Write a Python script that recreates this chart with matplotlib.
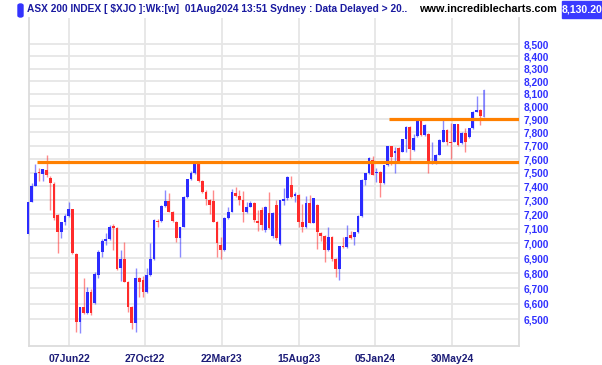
import numpy as np
import pandas as pd
import matplotlib
matplotlib.use("Agg")
import matplotlib.pyplot as plt
from matplotlib.patches import FancyBboxPatch, Rectangle

# weekly candles, first week starting 21 Mar 2022
START = "2022-03-21"

opens = [7062, 7290, 7405, 7505, 7490, 7517, 7463, 7420, 7196, 7077,
         7147, 7188, 7238, 6928, 6480, 6578, 6542, 6677, 6605, 6787,
         6941, 7018, 7030, 7120, 7104, 6833, 6892, 6743, 6580, 6478,
         6767, 6754, 6677, 6787, 6892, 7156, 7156, 7259, 7297, 7219,
         7149, 7034, 7115, 7326, 7451, 7495, 7565, 7437, 7357, 7302,
         7297, 7149, 6988, 6955, 7173, 7219, 7355, 7331, 7302, 7219,
         7255, 7283, 7154, 7231, 7092, 7210, 7050, 7266, 6995, 7297,
         7314, 7409, 7333, 7338, 7149, 7111, 7281, 7143, 7266, 7068,
         7050, 6955, 7046, 6892, 6826, 6981, 6976, 7057, 7041, 7075,
         7189, 7446, 7495, 7593, 7495, 7507, 7421, 7553, 7696, 7647,
         7680, 7655, 7748, 7845, 7667, 7773, 7900, 7781, 7790, 7570,
         7570, 7632, 7730, 7818, 7730, 7730, 7863, 7718, 7795, 7768,
         7831, 7959, 7972, 7920]
highs = [7295, 7428, 7560, 7534, 7526, 7630, 7475, 7430, 7200, 7150,
         7203, 7290, 7240, 6935, 6580, 6767, 6710, 6695, 6808, 6955,
         7028, 7068, 7127, 7134, 7110, 6955, 7011, 6750, 6585, 6834,
         6776, 6780, 6834, 7004, 7165, 7168, 7266, 7374, 7350, 7225,
         7155, 7115, 7330, 7455, 7514, 7575, 7575, 7446, 7374, 7310,
         7374, 7155, 7046, 7180, 7255, 7379, 7393, 7374, 7367, 7290,
         7297, 7290, 7231, 7255, 7260, 7362, 7215, 7300, 7305, 7386,
         7475, 7474, 7362, 7345, 7276, 7331, 7338, 7320, 7275, 7080,
         7060, 7113, 7050, 6900, 6985, 7046, 7127, 7085, 7080, 7195,
         7450, 7500, 7618, 7623, 7532, 7512, 7558, 7700, 7700, 7691,
         7690, 7752, 7850, 7850, 7790, 7900, 7905, 7865, 7795, 7730,
         7640, 7748, 7895, 7825, 7874, 7868, 7868, 7800, 7833, 7835,
         7962, 8085, 7978, 8140]
lows = [7055, 7290, 7400, 7439, 7440, 7470, 7231, 7161, 6935, 7040,
        7126, 7180, 6930, 6420, 6414, 6535, 6535, 6530, 6600, 6770,
        6910, 6990, 7025, 6955, 6820, 6747, 6740, 6548, 6440, 6418,
        6645, 6645, 6670, 6780, 6885, 7111, 7150, 7255, 7215, 7150,
        7009, 6905, 7110, 7320, 7445, 7490, 7430, 7350, 7264, 7203,
        7145, 6908, 6896, 6950, 7165, 7215, 7325, 7266, 7149, 7210,
        7250, 7147, 7087, 7092, 7078, 7100, 7036, 7025, 6990, 7266,
        7300, 7320, 7290, 7111, 7080, 7105, 7140, 7140, 6962, 7018,
        6876, 6950, 6883, 6777, 6754, 6965, 6970, 7030, 6988, 7070,
        7185, 7409, 7490, 7480, 7434, 7322, 7415, 7548, 7553, 7495,
        7575, 7650, 7655, 7593, 7660, 7768, 7775, 7775, 7495, 7565,
        7565, 7628, 7725, 7705, 7604, 7725, 7700, 7712, 7655, 7760,
        7826, 7955, 7854, 7900]
closes = [7290, 7405, 7500, 7495, 7526, 7485, 7427, 7175, 7075, 7147,
          7188, 7238, 6935, 6480, 6578, 6542, 6677, 6538, 6793, 6941,
          7016, 7030, 7113, 7104, 6826, 6892, 6743, 6580, 6476, 6767,
          6743, 6677, 6787, 6892, 7161, 7147, 7259, 7297, 7219, 7156,
          7034, 7115, 7326, 7451, 7500, 7565, 7437, 7357, 7307, 7266,
          7149, 6999, 6955, 7173, 7219, 7362, 7331, 7302, 7219, 7255,
          7283, 7161, 7143, 7127, 7255, 7106, 7210, 7036, 7302, 7311,
          7469, 7326, 7345, 7149, 7111, 7283, 7143, 7316, 7077, 7050,
          6955, 7046, 6892, 6826, 6981, 6972, 7046, 7036, 7075, 7189,
          7446, 7495, 7608, 7483, 7507, 7421, 7553, 7696, 7618, 7655,
          7581, 7748, 7845, 7678, 7757, 7895, 7781, 7860, 7575, 7581,
          7632, 7743, 7818, 7730, 7718, 7863, 7705, 7793, 7730, 7831,
          7959, 7972, 7925, 8130]

tick_labels = ["07Jun22", "27Oct22", "22Mar23", "15Aug23", "05Jan24", "30May24"]
y_ticks = list(range(6500, 8501, 100))

# horizontal resistance / support lines (level, start date)
levels = [7575, 7900]
level_start = ["2022-04-07", "2024-02-01"]

header = "ASX 200 INDEX [ $XJO ]:Wk:[w]  01Aug2024 13:51 Sydney : Data Delayed > 20.."
last_price = "8,130.20"

BLUE = "#2b2bff"
RED = "#ff2b2b"
GRID = "#e6e6e6"


def week_pos(d):
    return (pd.Timestamp(d) - pd.Timestamp(START)).days / 7.0


fig = plt.figure(figsize=(6.02, 3.65), dpi=100)
plt.rcParams["font.family"] = ["Liberation Sans", "DejaVu Sans"]
W, H = 602, 365
ax = fig.add_axes([29 / W, 1 - 346 / H, (519 - 29) / W, (346 - 18) / H])

o = np.array(opens, float)
h = np.array(highs, float)
l = np.array(lows, float)
c = np.array(closes, float)
x = np.arange(len(o))
up = c >= o
cols = np.where(up, BLUE, RED)

h = np.maximum(h, np.maximum(o, c))
l = np.minimum(l, np.minimum(o, c))

bot = np.minimum(o, c)
top = np.maximum(o, c)
top = np.maximum(top, bot * 1.0012)

n = len(o)
for i in range(n):
    a = 0.45 if i == n - 1 else 1.0
    ax.vlines(x[i], l[i], h[i], color=cols[i], lw=1.0, alpha=0.55 * a, zorder=3)
    ax.bar(x[i], top[i] - bot[i], bottom=bot[i], width=0.74, color=cols[i],
           alpha=a, lw=0, zorder=4, clip_on=False)

for lev, st in zip(levels, level_start):
    ax.hlines(lev, week_pos(st), 132.45, color="#ff8000", lw=2.3, zorder=5)

ax.set_yscale("log")
ax.set_ylim(6333, 8721)
ax.set_xlim(0.27, 132.45)

ax.yaxis.tick_right()
ax.set_yticks(y_ticks)
ax.set_yticklabels([f"{v:,}" for v in y_ticks])
ax.yaxis.set_minor_locator(matplotlib.ticker.NullLocator())
ax.tick_params(axis="y", length=0, pad=3, labelsize=7.3, labelcolor="#3030ff")
for t in ax.get_yticklabels():
    t.set_fontweight("bold")

xt = [week_pos(pd.to_datetime(s, format="%d%b%y")) for s in tick_labels]
ax.set_xticks(xt)
ax.set_xticklabels(tick_labels)
ax.tick_params(axis="x", length=0, pad=6, labelsize=7.5, labelcolor="#1c1c78")
for t in ax.get_xticklabels():
    t.set_fontweight("bold")

ax.grid(True, color=GRID, lw=1.3, zorder=0)
ax.set_axisbelow(True)
for s in ["left", "bottom", "right"]:
    ax.spines[s].set_color("#dcdcdc")
    ax.spines[s].set_linewidth(1.3)
ax.spines["top"].set_visible(False)

# header strip
fig.patches.append(FancyBboxPatch((18 / W, 1 - 17 / H), 5 / W, 13 / H,
                                  boxstyle="round,pad=0,rounding_size=0.004",
                                  transform=fig.transFigure, color="#3333ff"))
fig.text(27 / W, 1 - 9 / H, header, ha="left", va="center", fontsize=7.3,
         color="#1a1aa0", fontweight="bold")
fig.text(419 / W, 1 - 9 / H, "www.incrediblecharts.com", ha="left", va="center",
         fontsize=7.8, color="black", fontweight="bold")
fig.patches.append(Rectangle((562 / W, 1 - 18 / H), 40 / W, 17 / H,
                             transform=fig.transFigure, color="#3a3aff"))
fig.text(582 / W, 1 - 9.5 / H, last_price, ha="center", va="center", fontsize=7.6,
         color="white", fontweight="bold")

fig.savefig("out.png", dpi=100)
